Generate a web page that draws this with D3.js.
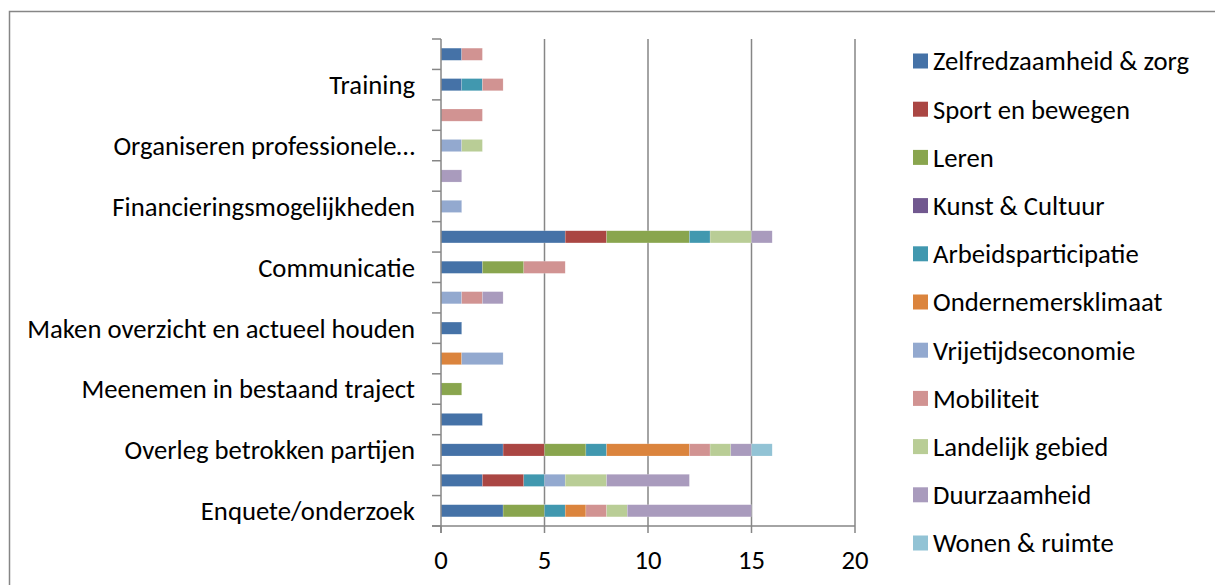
<!DOCTYPE html>
<html>
<head>
<meta charset="utf-8">
<script src="https://cdn.jsdelivr.net/npm/d3@7"></script>
<style>
  body { margin: 0; background: #fff; }
  text { font-family: Calibri, Carlito, "Open Sans", sans-serif; fill: #000; }
</style>
</head>
<body>
<div id="chart"></div>
<script>
// categories from bottom to top, Excel only printed every other label
const categories = ["Enquete/onderzoek", "", "Overleg betrokken partijen", "", "Meenemen in bestaand traject", "",
  "Maken overzicht en actueel houden", "", "Communicatie", "", "Financieringsmogelijkheden", "",
  "Organiseren professionele…", "", "Training", ""];

const series = ["Zelfredzaamheid & zorg", "Sport en bewegen", "Leren", "Kunst & Cultuur", "Arbeidsparticipatie",
  "Ondernemersklimaat", "Vrijetijdseconomie", "Mobiliteit", "Landelijk gebied", "Duurzaamheid", "Wonen & ruimte"];

const colors = ["#4572A7", "#AA4643", "#89A54E", "#71588F", "#4198AF", "#DB843D",
  "#93A9CF", "#D19392", "#B9CD96", "#A99BBD", "#92C3D5"];

const zelfredzaamheid = [3, 2, 3, 2, 0, 0, 1, 0, 2, 6, 0, 0, 0, 0, 1, 1];
const sport           = [0, 2, 2, 0, 0, 0, 0, 0, 0, 2, 0, 0, 0, 0, 0, 0];
const leren           = [2, 0, 2, 0, 1, 0, 0, 0, 2, 4, 0, 0, 0, 0, 0, 0];
const kunst           = [0, 0, 0, 0, 0, 0, 0, 0, 0, 0, 0, 0, 0, 0, 0, 0];
const arbeid          = [1, 1, 1, 0, 0, 0, 0, 0, 0, 1, 0, 0, 0, 0, 1, 0];
const ondernemers     = [1, 0, 4, 0, 0, 1, 0, 0, 0, 0, 0, 0, 0, 0, 0, 0];
const vrijetijd       = [0, 1, 0, 0, 0, 2, 0, 1, 0, 0, 1, 0, 1, 0, 0, 0];
const mobiliteit      = [1, 0, 1, 0, 0, 0, 0, 1, 2, 0, 0, 0, 0, 2, 1, 1];
const landelijk       = [1, 2, 1, 0, 0, 0, 0, 0, 0, 2, 0, 0, 1, 0, 0, 0];
const duurzaamheid    = [6, 4, 1, 0, 0, 0, 0, 1, 0, 1, 0, 1, 0, 0, 0, 0];
const wonen           = [0, 0, 1, 0, 0, 0, 0, 0, 0, 0, 0, 0, 0, 0, 0, 0];

const xTicks = [0, 5, 10, 15, 20];

const values = [zelfredzaamheid, sport, leren, kunst, arbeid, ondernemers, vrijetijd, mobiliteit, landelijk, duurzaamheid, wonen];

const width = 1215, height = 585;
const fontSize = "26.7px";
const svg = d3.select("#chart").append("svg")
    .attr("width", width)
    .attr("height", height);

// chart border (only left and top are inside the picture)
svg.append("rect")
    .attr("x", 9.5).attr("y", 11.5)
    .attr("width", 1300).attr("height", 700)
    .attr("fill", "none")
    .attr("stroke", "#868686")
    .attr("stroke-width", 1.5);

var x = d3.scaleLinear().domain([0, 20]).range([441, 855]);
var y = d3.scaleBand().domain(d3.range(categories.length)).range([526, 39]).paddingInner(0.6).paddingOuter(0.3);

// rows for the stack
const rows = categories.map(function(c, i) {
  var r = { idx: i };
  series.forEach(function(s, j) { r[s] = values[j][i]; });
  return r;
});
const stacked = d3.stack().keys(series)(rows);

// gridlines
svg.append("g").selectAll("line")
    .data(xTicks.slice(1))
    .enter().append("line")
    .attr("x1", d => x(d)).attr("x2", d => x(d))
    .attr("y1", 39).attr("y2", 526)
    .attr("stroke", "#868686")
    .attr("stroke-width", 1.5);

// bars
svg.append("g").selectAll("g")
    .data(stacked)
    .enter().append("g")
    .attr("fill", (d, i) => colors[i])
    .selectAll("rect")
    .data(d => d.filter(p => p[1] > p[0]))
    .enter().append("rect")
    .attr("x", d => x(d[0]))
    .attr("y", d => y(d.data.idx))
    .attr("width", d => x(d[1]) - x(d[0]))
    .attr("height", y.bandwidth())
    .attr("stroke", "#fff")
    .attr("stroke-opacity", 0.35)
    .attr("stroke-width", 0.5);

// y axis with a tick between every category
const yTickPos = d3.range(categories.length + 1).map(i => 526 - i * (487 / categories.length));
svg.append("line")
    .attr("x1", 441).attr("x2", 441).attr("y1", 39).attr("y2", 533)
    .attr("stroke", "#868686").attr("stroke-width", 1.5);
svg.append("g").selectAll("line")
    .data(yTickPos)
    .enter().append("line")
    .attr("x1", 432).attr("x2", 441)
    .attr("y1", d => d).attr("y2", d => d)
    .attr("stroke", "#868686").attr("stroke-width", 1.5);

// x axis
svg.append("line")
    .attr("x1", 432).attr("x2", 855).attr("y1", 526).attr("y2", 526)
    .attr("stroke", "#868686").attr("stroke-width", 1.5);
svg.append("g").selectAll("line")
    .data(xTicks)
    .enter().append("line")
    .attr("x1", d => x(d)).attr("x2", d => x(d))
    .attr("y1", 526).attr("y2", 533)
    .attr("stroke", "#868686").attr("stroke-width", 1.5);
svg.append("g").selectAll("text")
    .data(xTicks)
    .enter().append("text")
    .attr("x", d => x(d))
    .attr("y", 569)
    .attr("text-anchor", "middle")
    .style("font-size", fontSize)
    .text(d => d);

// category labels
svg.append("g").selectAll("text")
    .data(categories.map((c, i) => ({ c: c, i: i })).filter(d => d.c !== ""))
    .enter().append("text")
    .attr("x", 415)
    .attr("y", d => y(d.i) + y.bandwidth() / 2)
    .attr("dy", "0.35em")
    .attr("text-anchor", "end")
    .style("font-size", fontSize)
    .text(d => d.c);

// legend
const legend = svg.append("g").selectAll("g")
    .data(series)
    .enter().append("g")
    .attr("transform", (d, i) => "translate(913," + (61 + i * 48.2) + ")");
legend.append("rect")
    .attr("x", 0).attr("y", -7.5)
    .attr("width", 15).attr("height", 15)
    .attr("fill", (d, i) => colors[i]);
legend.append("text")
    .attr("x", 20)
    .attr("dy", "0.35em")
    .style("font-size", fontSize)
    .text(d => d);
</script>
</body>
</html>
